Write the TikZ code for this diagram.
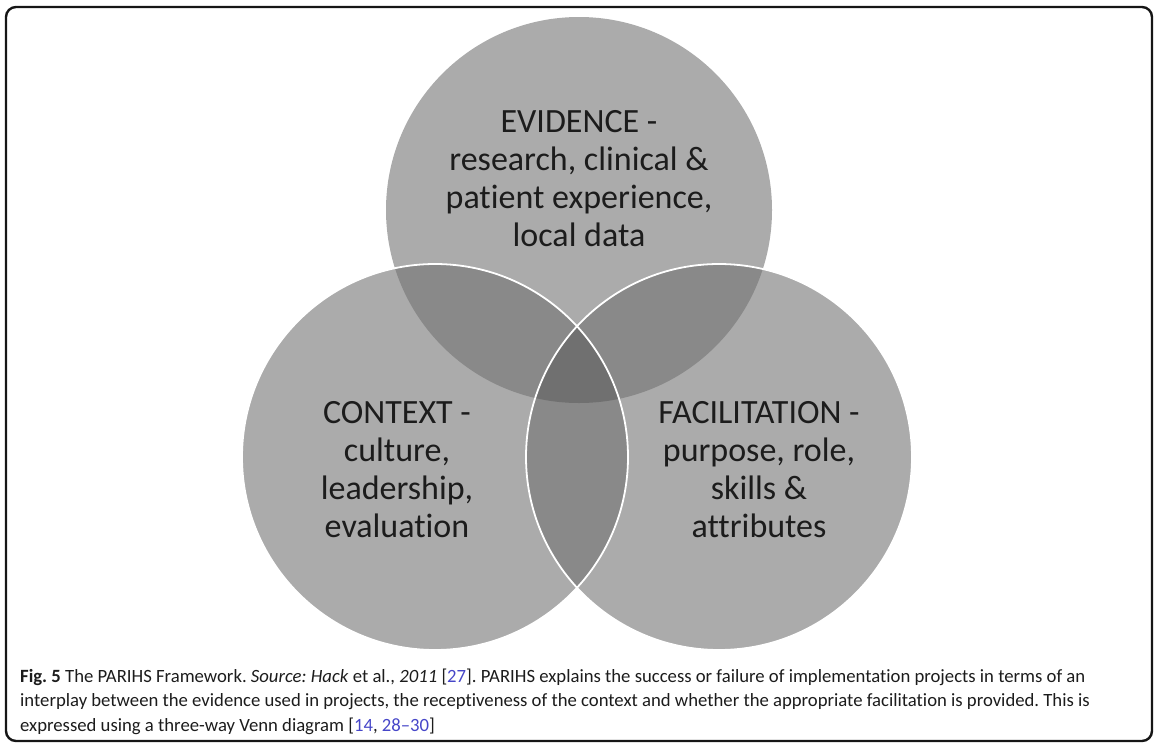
\documentclass[tikz,border=0pt]{standalone}
\usepackage{fontspec}
\setmainfont{Carlito}[Ligatures=NoCommon]
\frenchspacing
\usetikzlibrary{positioning}
\definecolor{figGris}{RGB}{171,171,171}
\definecolor{figGrisMedio}{RGB}{137,137,137}
\definecolor{figGrisOscuro}{RGB}{112,112,112}
\definecolor{figTexto}{RGB}{28,28,28}
\definecolor{figMarco}{RGB}{22,22,22}
\definecolor{figCita}{RGB}{70,70,200}
\newcommand{\cita}[1]{\textcolor{figCita}{#1}}
\tikzset{
  rotulo/.style={
    align=center, text=figTexto, inner sep=0pt,
    font=\fontsize{34}{38}\selectfont
  },
  leyenda/.style={
    align=left, text=figTexto, inner sep=0pt,
    font=\fontsize{18.7}{24.5}\selectfont
  },
  borde/.style={draw=white, line width=1.8pt},
  marco/.style={draw=figMarco, line width=2.4pt, rounded corners=10pt}
}
\begin{document}
\begin{tikzpicture}[x=1pt, y=-1pt]
  \useasboundingbox (0,0) rectangle (1159,750);
  \def\radio{193}
  \coordinate (cEvid) at (579,210);
  \coordinate (cCont) at (435,457);
  \coordinate (cFac) at (719,457);

  % circulos
  \fill[figGris] (cEvid) circle[radius=\radio];
  \fill[figGris] (cCont) circle[radius=\radio];
  \fill[figGris] (cFac) circle[radius=\radio];

  % zonas comunes
  \begin{scope}
    \clip (cEvid) circle[radius=\radio];
    \fill[figGrisMedio] (cCont) circle[radius=\radio];
    \fill[figGrisMedio] (cFac) circle[radius=\radio];
  \end{scope}
  \begin{scope}
    \clip (cCont) circle[radius=\radio];
    \fill[figGrisMedio] (cFac) circle[radius=\radio];
  \end{scope}
  \begin{scope}
    \clip (cEvid) circle[radius=\radio];
    \clip (cCont) circle[radius=\radio];
    \fill[figGrisOscuro] (cFac) circle[radius=\radio];
  \end{scope}

  \draw[borde] (cCont) circle[radius=\radio];
  \draw[borde] (cFac) circle[radius=\radio];

  \node[rotulo] (evid) at (579,179) {EVIDENCE -\\research, clinical \&\\patient experience,\\local data};
  \node[rotulo] (cont) at (397,470) {CONTEXT -\\culture,\\leadership,\\evaluation};
  \node[rotulo] (fac) at (759,470) {FACILITATION -\\purpose, role,\\skills \&\\attributes};

  \node[leyenda, anchor=base west] (pie) at (20,731) {\textbf{Fig. 5} The PARIHS Framework. \textit{Source: Hack} et al., \textit{2011} [\cita{27}]. PARIHS explains the success or failure of implementation projects in terms of an\\
    interplay between the evidence used in projects, the receptiveness of the context and whether the appropriate facilitation is provided. This is\\
    expressed using a three-way Venn diagram [\cita{14}, \cita{28--30}]};

  \draw[marco] (6,7) rectangle (1152,741);
\end{tikzpicture}
\end{document}
